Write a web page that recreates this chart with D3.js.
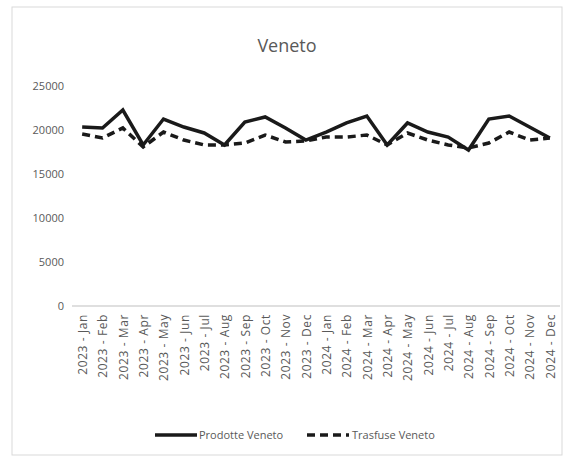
<!DOCTYPE html>
<html>
<head>
<title>Veneto</title>
<script src="https://cdn.jsdelivr.net/npm/d3@7"></script>
<style>
  body { margin: 0; background: #fff; }
  text { font-family: "Open Sans", "Noto Sans", sans-serif; fill: #595959; }
</style>
</head>
<body>
<svg width="571" height="463"></svg>
<script>
var months = ["2023 - Jan", "2023 - Feb", "2023 - Mar", "2023 - Apr", "2023 - May", "2023 - Jun",
              "2023 - Jul", "2023 - Aug", "2023 - Sep", "2023 - Oct", "2023 - Nov", "2023 - Dec",
              "2024 - Jan", "2024 - Feb", "2024 - Mar", "2024 - Apr", "2024 - May", "2024 - Jun",
              "2024 - Jul", "2024 - Aug", "2024 - Sep", "2024 - Oct", "2024 - Nov", "2024 - Dec"];
var prodotte = [20340, 20230, 22270, 18300, 21250, 20340, 19660, 18300, 20910, 21480, 20230, 18860,
                19770, 20800, 21590, 18300, 20800, 19770, 19200, 17730, 21250, 21590, 20340, 19090];
var trasfuse = [19540, 19090, 20230, 18070, 19770, 18860, 18300, 18300, 18520, 19430, 18640, 18750,
                19200, 19200, 19430, 18300, 19660, 18860, 18300, 17950, 18520, 19770, 18860, 19090];
var yTicks = [0, 5000, 10000, 15000, 20000, 25000];
var seriesNames = ["Prodotte Veneto", "Trasfuse Veneto"];

var svg = d3.select("svg");

// chart frame
svg.append("rect")
    .attr("x", 12).attr("y", 7)
    .attr("width", 550).attr("height", 448)
    .attr("fill", "#fff")
    .attr("stroke", "#d9d9d9");

svg.append("text")
    .attr("x", 287).attr("y", 52)
    .attr("text-anchor", "middle")
    .style("font-size", "18px")
    .text("Veneto");

var x = d3.scalePoint().domain(months).range([72, 560]).padding(0.5);
var y = d3.scaleLinear().domain([0, 25000]).range([306, 86]);

// y axis labels only
var yAxis = svg.append("g")
    .attr("transform", "translate(70,0)")
    .call(d3.axisLeft(y).tickValues(yTicks).tickFormat(d3.format("d")).tickSize(0).tickPadding(6));
yAxis.select(".domain").remove();
yAxis.selectAll("text").style("font-size", "11px").attr("fill", "#595959");

// x axis
var xAxis = svg.append("g")
    .attr("transform", "translate(0,306)")
    .call(d3.axisBottom(x).tickSize(0).tickPadding(6));
xAxis.select(".domain").attr("stroke", "#bfbfbf").attr("d", "M72,0H560");
xAxis.selectAll("text")
    .style("font-size", "12px")
    .style("letter-spacing", "0.6px")
    .attr("fill", "#595959")
    .attr("text-anchor", "end")
    .attr("transform", "rotate(-90)")
    .attr("x", -8).attr("y", 0).attr("dy", "0.35em");

var line = d3.line()
    .x(function(d, i){ return x(months[i]); })
    .y(function(d){ return y(d); });

svg.append("path")
    .datum(prodotte)
    .attr("d", line)
    .attr("fill", "none")
    .attr("stroke", "#1a1a1a")
    .attr("stroke-width", 3.5)
    .attr("stroke-linejoin", "miter");

svg.append("path")
    .datum(trasfuse)
    .attr("d", line)
    .attr("fill", "none")
    .attr("stroke", "#1a1a1a")
    .attr("stroke-width", 3.5)
    .attr("stroke-dasharray", "8,5");

// legend
var legend = svg.append("g");
[[155, 199, null], [307, 352, "8,5"]].forEach(function(p, i){
    legend.append("line")
        .attr("x1", p[0]).attr("x2", p[0] + 42)
        .attr("y1", 435).attr("y2", 435)
        .attr("stroke", "#1a1a1a")
        .attr("stroke-width", 3.5)
        .attr("stroke-dasharray", p[2]);
    legend.append("text")
        .attr("x", p[1]).attr("y", 435)
        .attr("dy", "0.35em")
        .style("font-size", "11px")
        .text(seriesNames[i]);
});
</script>
</body>
</html>
